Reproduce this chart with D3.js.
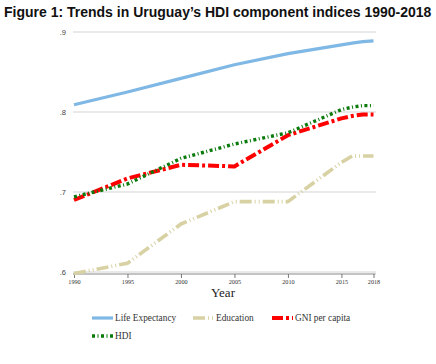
<!DOCTYPE html>
<html><head><meta charset="utf-8">
<script src="https://cdn.jsdelivr.net/npm/d3@7"></script>
<style>body{margin:0;background:#fff}svg{display:block}</style>
</head><body>
<script>
const years = [1990, 1995, 2000, 2005, 2010, 2015, 2016, 2017, 2018];
const lifeExpectancy = [0.809, 0.825, 0.842, 0.859, 0.873, 0.884, 0.886, 0.888, 0.889];
const education = [0.598, 0.611, 0.660, 0.688, 0.688, 0.737, 0.745, 0.745, 0.745];
const gniPerCapita = [0.690, 0.717, 0.734, 0.732, 0.771, 0.792, 0.795, 0.797, 0.797];
const hdi = [0.694, 0.710, 0.742, 0.760, 0.774, 0.803, 0.806, 0.808, 0.808];
const xTicks = [1990, 1995, 2000, 2005, 2010, 2015, 2018];
const yTicks = [0.6, 0.7, 0.8, 0.9];
const yTickLabels = [".6", ".7", ".8", ".9"];
const seriesNames = ["Life Expectancy", "Education", "GNI per capita", "HDI"];
const titleText = "Figure 1: Trends in Uruguay\u2019s HDI component indices 1990-2018";

const W = 436, H = 364;
const svg = d3.select("body").append("svg").attr("width", W).attr("height", H);

const x = d3.scaleLinear().domain([1990, 2018]).range([74, 373.5]);
const y = d3.scaleLinear().domain([0.6, 0.9]).range([272, 32]);

svg.append("text").attr("x", 4).attr("y", 17)
  .attr("font-family", "Liberation Sans, Arial, sans-serif").attr("font-weight", "bold")
  .attr("font-size", 14).attr("fill", "#111").text(titleText);

// gridlines
svg.append("g").selectAll("line").data(yTicks).join("line")
  .attr("x1", 73).attr("x2", 376)
  .attr("y1", d => y(d)).attr("y2", d => y(d))
  .attr("stroke", "#e2e2e2").attr("stroke-width", 1.4);

// y tick labels
svg.append("g").selectAll("text").data(yTicks).join("text")
  .attr("x", 66).attr("y", d => y(d) + 2.5).attr("text-anchor", "end")
  .attr("font-family", "Liberation Sans, Arial, sans-serif").attr("font-size", 7.5)
  .attr("fill", "#444").text((d, i) => yTickLabels[i]);

// x axis
const xAxis = d3.axisBottom(x).tickValues(xTicks).tickSize(4).tickPadding(2).tickFormat(d3.format("d"));
const gx = svg.append("g").attr("transform", "translate(0,274)").call(xAxis);
gx.select(".domain").attr("stroke", "#888").attr("stroke-width", 1.2)
  .attr("d", `M${x(1990)-1},0H${x(2018)+2}`);
gx.selectAll(".tick line").attr("stroke", "#777");
gx.selectAll(".tick text").attr("font-family", "Liberation Serif, Times New Roman, serif")
  .attr("font-size", 6.2).attr("fill", "#333");

svg.append("text").attr("x", 223).attr("y", 297).attr("text-anchor", "middle")
  .attr("font-family", "Liberation Serif, Times New Roman, serif").attr("font-size", 13)
  .attr("fill", "#222").text("Year");

const styles = [
  {color: "#7fb8e4", width: 3.2, dash: null, cap: "butt"},
  {color: "#d8d1a3", width: 3.6, dash: "12,3,1,3,1,3", cap: "butt"},
  {color: "#ff0000", width: 4, dash: "11,3,3,3", cap: "butt"},
  {color: "#0a7a0a", width: 3.4, dash: "3,2.5,1,2.5", cap: "butt"}
];
const data = [lifeExpectancy, education, gniPerCapita, hdi];
const line = d3.line().x((d, i) => x(years[i])).y(d => y(d));

data.forEach((vals, k) => {
  const s = styles[k];
  svg.append("path").datum(vals).attr("d", line)
    .attr("fill", "none").attr("stroke", s.color).attr("stroke-width", s.width)
    .attr("stroke-linecap", s.cap).attr("stroke-linejoin", "round").attr("stroke-dasharray", s.dash);
});

// legend
const legPos = [[92, 318], [193, 318], [272, 318], [92, 336]];
const leg = svg.append("g");
seriesNames.forEach((name, k) => {
  const s = styles[k];
  const [lx, ly] = legPos[k];
  leg.append("line").attr("x1", lx).attr("x2", lx + 21).attr("y1", ly).attr("y2", ly)
    .attr("stroke", s.color).attr("stroke-width", s.width).attr("stroke-dasharray", s.dash);
  leg.append("text").attr("x", lx + 23).attr("y", ly + 3.2)
    .attr("font-family", "Liberation Serif, Times New Roman, serif").attr("font-size", 9.3)
    .attr("fill", "#333").text(name);
});
</script>
</body></html>
